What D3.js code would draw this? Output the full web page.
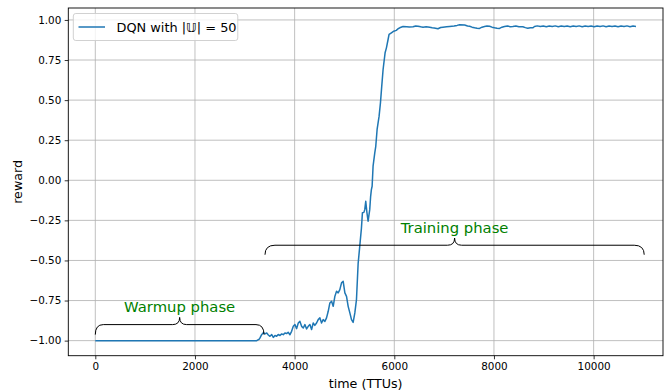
<!DOCTYPE html>
<html>
<head>
<meta charset="utf-8">
<script src="https://cdn.jsdelivr.net/npm/d3@7"></script>
<style>
  body { margin: 0; background: #fff; }
  svg text { font-family: "DejaVu Sans", "Noto Sans", sans-serif; fill: #000; }
</style>
</head>
<body>
<svg id="chart" width="667" height="392"></svg>
<script>
// Reward of the DQN agent over time (TTUs)
const timeSteps = [
  0, 3240, 3290, 3305, 3338, 3372, 3405, 3440, 3472, 3505, 3540, 3572, 3605, 3639, 3670, 3706,
  3740, 3772, 3805, 3839, 3870, 3906, 3939, 3973, 4006, 4040, 4073, 4106, 4140, 4173, 4206, 4240,
  4273, 4306, 4340, 4373, 4405, 4440, 4473, 4507, 4540, 4573, 4607, 4640, 4674, 4707, 4741, 4774,
  4807, 4841, 4874, 4907, 4941, 4974, 5008, 5041, 5074, 5108, 5141, 5174, 5208, 5241, 5274, 5307,
  5340, 5360, 5390, 5407, 5427, 5450, 5474, 5490, 5507, 5525, 5540, 5555, 5574, 5608, 5628, 5655,
  5695, 5722, 5748, 5775, 5815, 5842, 5875, 5895, 5942, 5989, 6040, 6075, 6109, 6175, 6250, 6300,
  6376, 6430, 6476, 6530, 6576, 6640, 6710, 6760, 6800, 6876, 6930, 6976, 7050, 7110, 7200, 7260,
  7311, 7411, 7470, 7511, 7560, 7611, 7660, 7711, 7760, 7811, 7860, 7911, 7960, 8012, 8060, 8112,
  8160, 8212, 8270, 8330, 8379, 8440, 8500, 8579, 8630, 8679, 8730, 8779, 8813, 8870, 8930, 8990,
  9050, 9110, 9170, 9230, 9290, 9350, 9410, 9470, 9530, 9590, 9650, 9710, 9770, 9830, 9890, 9950,
  10010, 10070, 10130, 10190, 10250, 10310, 10370, 10430, 10490, 10550, 10610, 10670, 10730, 10790, 10850
];
const rewards = [
  -1.0, -1.0, -0.99, -0.983, -0.963, -0.95, -0.958, -0.952, -0.965, -0.973, -0.962, -0.98, -0.968, -0.973, -0.962, -0.968,
  -0.958, -0.963, -0.952, -0.956, -0.948, -0.963, -0.942, -0.911, -0.9, -0.925, -0.89, -0.88, -0.911, -0.921, -0.9, -0.927,
  -0.911, -0.9, -0.931, -0.89, -0.905, -0.89, -0.869, -0.858, -0.89, -0.869, -0.88, -0.858, -0.817, -0.765, -0.755, -0.786,
  -0.724, -0.692, -0.702, -0.682, -0.64, -0.63, -0.702, -0.724, -0.786, -0.827, -0.869, -0.886, -0.827, -0.744, -0.52, -0.411,
  -0.3, -0.203, -0.2, -0.183, -0.131, -0.2, -0.255, -0.22, -0.183, -0.1, -0.058, -0.037, 0.088, 0.171, 0.212, 0.317,
  0.4, 0.483, 0.587, 0.691, 0.795, 0.826, 0.878, 0.91, 0.92, 0.93, 0.935, 0.945, 0.951, 0.959, 0.958, 0.956,
  0.957, 0.962, 0.961, 0.957, 0.955, 0.958, 0.955, 0.952, 0.95, 0.945, 0.953, 0.955, 0.957, 0.959, 0.962, 0.966,
  0.97, 0.968, 0.962, 0.961, 0.955, 0.951, 0.948, 0.947, 0.955, 0.959, 0.962, 0.961, 0.955, 0.951, 0.948, 0.947,
  0.955, 0.959, 0.962, 0.958, 0.959, 0.962, 0.958, 0.958, 0.952, 0.948, 0.951, 0.951, 0.959, 0.963, 0.959, 0.962,
  0.958, 0.962, 0.959, 0.963, 0.958, 0.962, 0.959, 0.962, 0.958, 0.962, 0.959, 0.963, 0.958, 0.962, 0.959, 0.962,
  0.958, 0.962, 0.959, 0.963, 0.958, 0.962, 0.959, 0.962, 0.958, 0.962, 0.959, 0.963, 0.958, 0.962, 0.959
];
const xTicks = [0, 2000, 4000, 6000, 8000, 10000];
const yTicks = [-1.0, -0.75, -0.5, -0.25, 0.0, 0.25, 0.5, 0.75, 1.0];
const xDomain = [-542, 11392];
const yDomain = [-1.094, 1.0745];
const seriesName = "DQN with ";
const seriesMath = "|\u{1D54C}| = 50";
const phaseLabels = ["Warmup phase", "Training phase"];
const phaseStart = [0, 3405];
const phaseEnd = [3385, 11015];
const xLabel = "time (TTUs)";
const yLabel = "reward";

const svg = d3.select("#chart");
const plot = { left: 68.3, right: 663, top: 8, bottom: 355.7 };
const x = d3.scaleLinear().domain(xDomain).range([plot.left, plot.right]);
const y = d3.scaleLinear().domain(yDomain).range([plot.bottom, plot.top]);
const blue = "#1f77b4";
const minus = s => s.replace("-", "\u2212");

// grid
const grid = svg.append("g").attr("stroke", "#b0b0b0").attr("stroke-width", 0.8);
grid.selectAll("line.gx").data(xTicks).join("line")
  .attr("x1", d => x(d)).attr("x2", d => x(d))
  .attr("y1", plot.top).attr("y2", plot.bottom);
grid.selectAll("line.gy").data(yTicks).join("line")
  .attr("x1", plot.left).attr("x2", plot.right)
  .attr("y1", d => y(d)).attr("y2", d => y(d));

// axes
const xAxis = d3.axisBottom(x).tickValues(xTicks).tickSize(3.6).tickPadding(3.4)
  .tickFormat(d3.format("d"));
const yAxis = d3.axisLeft(y).tickValues(yTicks).tickSize(3.6).tickPadding(3.4)
  .tickFormat(d => minus(d3.format(".2f")(d)));
const gx = svg.append("g").attr("transform", `translate(0,${plot.bottom})`).call(xAxis);
const gy = svg.append("g").attr("transform", `translate(${plot.left},0)`).call(yAxis);
[gx, gy].forEach(g => {
  g.select(".domain").remove();
  g.selectAll(".tick line").attr("stroke", "#000").attr("stroke-width", 0.8);
  g.selectAll(".tick text").attr("font-size", 10.4).attr("fill", "#000")
    .style("font-family", '"DejaVu Sans", sans-serif');
});

// frame
svg.append("rect")
  .attr("x", plot.left).attr("y", plot.top)
  .attr("width", plot.right - plot.left).attr("height", plot.bottom - plot.top)
  .attr("fill", "none").attr("stroke", "#000").attr("stroke-width", 0.9);

// reward curve
const points = timeSteps.map((t, i) => [t, rewards[i]]);
svg.append("path")
  .datum(points)
  .attr("fill", "none")
  .attr("stroke", blue)
  .attr("stroke-width", 1.5)
  .attr("stroke-linejoin", "round")
  .attr("d", d3.line().x(d => x(d[0])).y(d => y(d[1])));

// phase braces
const braceLevel = [-0.90, -0.405];
const braceDrop = [10, 9.5];
const braceCurl = [8, 10];
function bracePath(x0, x1, yy, drop, curl, tipW, tipH) {
  const xm = (x0 + x1) / 2;
  return `M${x0},${yy + drop} Q${x0},${yy} ${x0 + curl},${yy} L${xm - tipW},${yy} ` +
    `Q${xm},${yy} ${xm},${yy - tipH} Q${xm},${yy} ${xm + tipW},${yy} ` +
    `L${x1 - curl},${yy} Q${x1},${yy} ${x1},${yy + drop}`;
}
phaseLabels.forEach((label, i) => {
  const x0 = x(phaseStart[i]), x1 = x(phaseEnd[i]), yy = y(braceLevel[i]);
  svg.append("path")
    .attr("d", bracePath(x0, x1, yy, braceDrop[i], braceCurl[i], 7, 7.2))
    .attr("fill", "none").attr("stroke", "#000").attr("stroke-width", 1);
  svg.append("text")
    .attr("x", (x0 + x1) / 2).attr("y", yy - 12.5)
    .attr("text-anchor", "middle")
    .attr("font-size", 14.8)
    .style("fill", "#008000")
    .text(label);
});

// axis labels
svg.append("text").attr("x", (plot.left + plot.right) / 2).attr("y", 387.5)
  .attr("text-anchor", "middle").attr("font-size", 12.7).text(xLabel);
svg.append("text")
  .attr("transform", `translate(22,${(plot.top + plot.bottom) / 2}) rotate(-90)`)
  .attr("text-anchor", "middle").attr("font-size", 12.7).text(yLabel);

// legend
const lg = svg.append("g");
lg.append("rect").attr("x", 73.3).attr("y", 13.5).attr("width", 164.5).attr("height", 27)
  .attr("rx", 2.5).attr("fill", "#fff").attr("fill-opacity", 0.8)
  .attr("stroke", "#cccccc").attr("stroke-width", 0.9);
lg.append("line").attr("x1", 78.5).attr("x2", 105).attr("y1", 27).attr("y2", 27)
  .attr("stroke", blue).attr("stroke-width", 1.5);
const lt = lg.append("text").attr("x", 116.5).attr("y", 31.6).attr("font-size", 12.9);
lt.append("tspan").text(seriesName);
lt.append("tspan").text(seriesMath);
</script>
</body>
</html>
